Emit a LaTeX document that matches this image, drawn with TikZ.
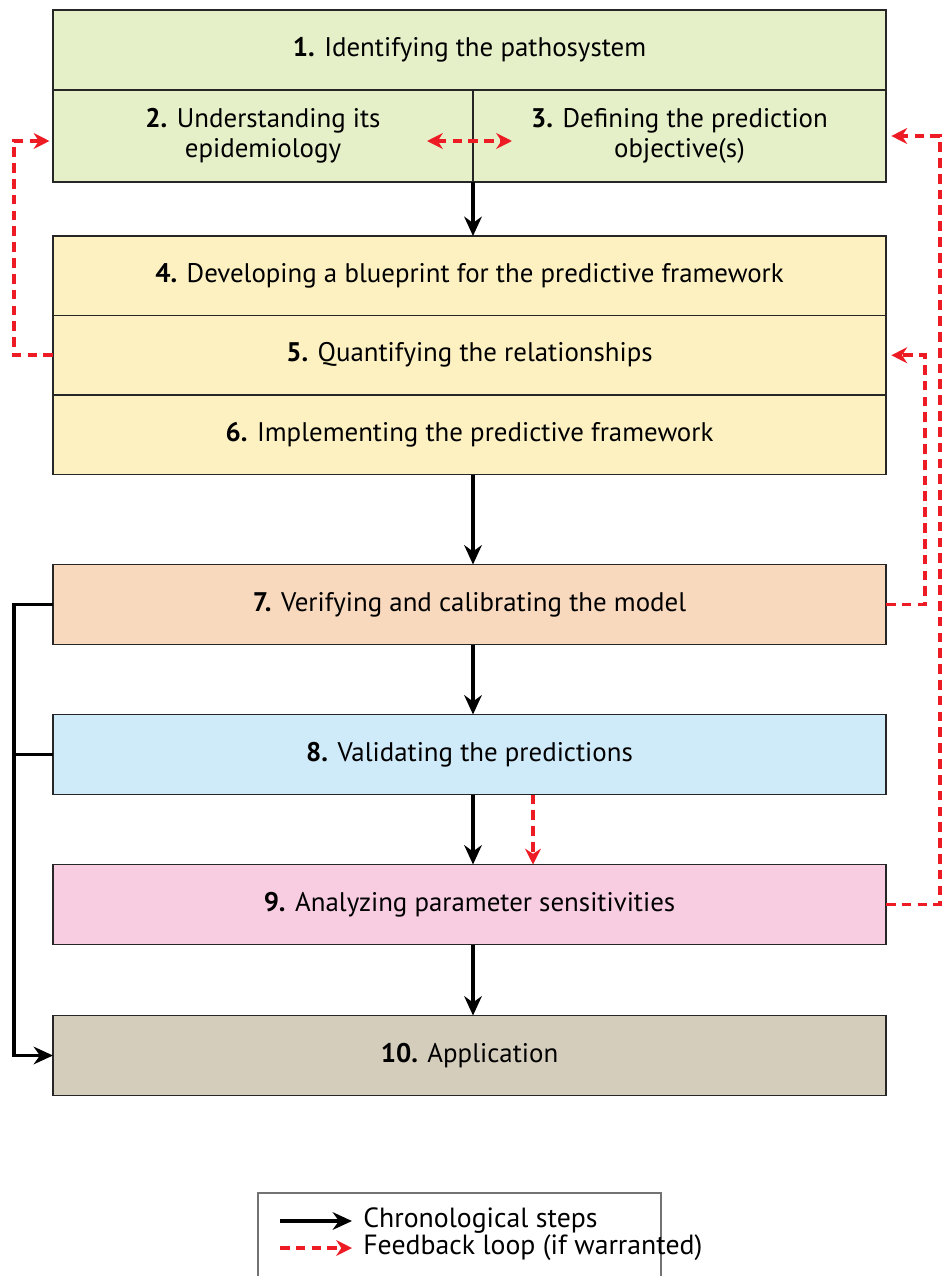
\documentclass[tikz,border=0pt]{standalone}
\usepackage{fontspec}
\setmainfont{PT Sans}
\usepackage{xcolor}
\usepackage{tikz}
\usetikzlibrary{arrows.meta, positioning}
\definecolor{greenbox}{RGB}{229,239,200}
\definecolor{yellowbox}{RGB}{253,241,194}
\definecolor{orangebox}{RGB}{249,217,189}
\definecolor{bluebox}{RGB}{207,234,249}
\definecolor{pinkbox}{RGB}{248,205,226}
\definecolor{tanbox}{RGB}{213,205,187}
\definecolor{loopred}{RGB}{237,28,36}
\tikzset{
  stage/.style={rectangle, draw=black!85, line width=1.1pt, outer sep=0pt, minimum width=16.66cm, minimum height=1.6cm, align=center, inner sep=0pt, font=\fontsize{15.3}{17}\selectfont},
  half/.style={stage, minimum height=1.84cm},
  arrow/.style={-{Stealth[length=11pt, width=10pt]}, line width=2pt},
  feedback/.style={-{Stealth[length=9pt, width=9pt]}, line width=2pt, loopred, dash pattern=on 5.5pt off 3.5pt},
  legendtext/.style={anchor=west, inner sep=0pt, font=\fontsize{15.8}{17}\selectfont}
}

\begin{document}
\begin{tikzpicture}
  \useasboundingbox (0,0) rectangle (18.88,-25.52);
  % stages 1 to 3
  \node[stage, fill=greenbox] (s1) at (9.39,-1.0) {\textbf{1.} Identifying the pathosystem};
  \node[half, fill=greenbox, minimum width=8.4cm, below=0pt of s1.south west, anchor=north west] (s2) {\textbf{2.} Understanding its\\epidemiology};
  \node[half, fill=greenbox, minimum width=8.26cm, right=0pt of s2.north east, anchor=north west] (s3) {\textbf{3.} Defining the prediction\\objective(s)};
  \coordinate (top) at (s1.south |- s2.south);
  % stages 4 to 6
  \node[stage, fill=yellowbox, minimum height=1.59cm, below=1.08cm of top] (s4) {\textbf{4.} Developing a blueprint for the predictive framework};
  \node[stage, fill=yellowbox, minimum height=1.59cm, below=0pt of s4] (s5) {\textbf{5.} Quantifying the relationships};
  \node[stage, fill=yellowbox, minimum height=1.59cm, below=0pt of s5] (s6) {\textbf{6.} Implementing the predictive framework};
  % stages 7 to 10
  \node[stage, fill=orangebox, below=1.8cm of s6] (s7) {\textbf{7.} Verifying and calibrating the model};
  \node[stage, fill=bluebox, below=1.4cm of s7] (s8) {\textbf{8.} Validating the predictions};
  \node[stage, fill=pinkbox, below=1.4cm of s8] (s9) {\textbf{9.} Analyzing parameter sensitivities};
  \node[stage, fill=tanbox, below=1.42cm of s9] (s10) {\textbf{10.} Application};
  % chronological steps
  \draw[arrow] (s2.south east) -- (s2.south east |- s4.north);
  \draw[arrow] ([xshift=0.07cm]s6.south) -- ([xshift=0.07cm]s7.north);
  \draw[arrow] ([xshift=0.07cm]s7.south) -- ([xshift=0.07cm]s8.north);
  \draw[arrow] ([xshift=0.07cm]s8.south) -- ([xshift=0.07cm]s9.north);
  \draw[arrow] ([xshift=0.07cm]s9.south) -- ([xshift=0.07cm]s10.north);
  \draw[arrow] (s7.west) -- ++(-0.78,0) |- (s10.west);
  \draw[line width=2pt] (s8.west) -- ++(-0.78,0);
  % feedback loops
  \coordinate (fbl) at ([xshift=-0.92cm,yshift=-0.1cm]s2.east);
  \coordinate (fbr) at ([xshift=0.78cm,yshift=-0.1cm]s2.east);
  \draw[feedback, {Stealth[length=9pt, width=9pt]}-{Stealth[length=9pt, width=9pt]}] (fbl) -- (fbr);
  \draw[feedback, shorten >=2pt] (s5.west) -- ++(-0.78,0) |- ([yshift=-0.1cm]s2.west);
  \draw[feedback, shorten >=3pt] (s7.east) -- ++(0.78,0) |- (s5.east);
  \draw[feedback, shorten >=3pt] (s9.east) -- ++(1.08,0) |- (s3.east);
  \draw[feedback] ([xshift=1.27cm]s8.south) -- ([xshift=1.27cm]s9.north);
  % legend
  \draw[black!55, line width=0.9pt] (5.16,-25.6) rectangle (13.22,-23.86);
  \node[legendtext] (chron) at (7.26,-24.42) {Chronological steps};
  \node[legendtext] (loop) at (7.26,-24.96) {Feedback loop (if warranted)};
  \coordinate (chronstart) at (5.6,-24.42);
  \coordinate (loopstart) at (5.6,-24.96);
  \draw[arrow] (chronstart) -- ([xshift=-0.22cm]chron.west);
  \draw[feedback] (loopstart) -- ([xshift=-0.22cm]loop.west);
\end{tikzpicture}
\end{document}
